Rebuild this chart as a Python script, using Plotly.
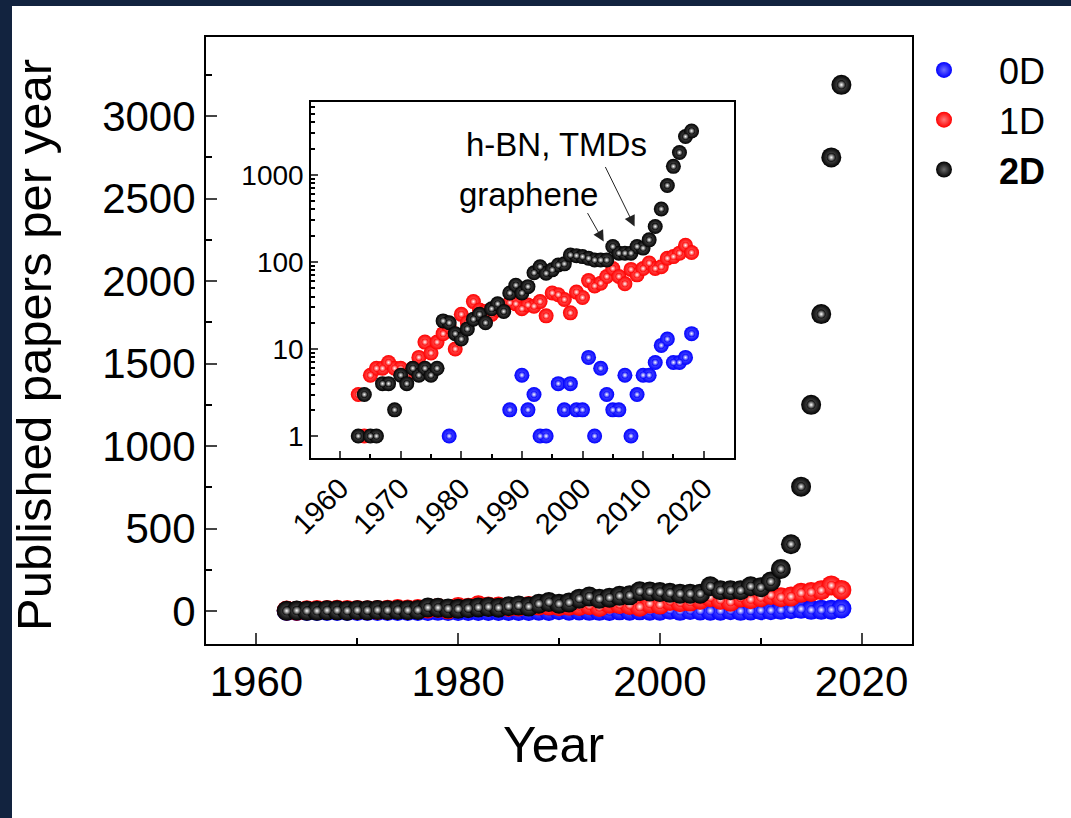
import math
import plotly.graph_objects as go

W, H = 1071, 818
# pixel box of the main plotting area
L, R, T, B = 206, 912, 37, 644

years = list(range(1963, 2019))

papers_0d = [0, 0, 0, 0, 0, 0, 0, 0, 0, 0, 0, 0, 0, 0, 0, 1, 0, 0, 0, 0,
             0, 0, 0, 0, 0, 2, 0, 5, 2, 3, 1, 1, 0, 4, 2, 4, 2, 2, 8, 1,
             6, 3, 2, 2, 5, 1, 3, 5, 5, 7, 11, 13, 7, 7, 8, 15]

papers_1d = [3, 1, 5, 6, 6, 7, 6, 6, 5, 6, 8, 12, 9, 12, 15, 18, 10, 25, 20, 35,
             28, 27, 25, 28, 30, 34, 33, 29, 32, 31, 35, 24, 44, 42, 37, 26, 45, 39, 61, 53,
             57, 68, 84, 68, 56, 82, 71, 84, 97, 84, 88, 110, 115, 126, 155, 128]

papers_2d = [1, 3, 1, 1, 4, 4, 2, 5, 4, 6, 5, 6, 5, 6, 21, 20, 15, 13, 17, 22,
             25, 20, 29, 33, 27, 44, 54, 44, 52, 75, 88, 74, 81, 92, 95, 120, 118, 115, 110, 105,
             105, 105, 150, 126, 126, 126, 150, 144, 179, 255, 405, 754, 1250, 1800, 2750, 3190]

series_names = ["0D", "1D", "<b>2D</b>"]
series_values = [papers_0d, papers_1d, papers_2d]
series_colors = ["#0000ff", "#ff0000", "#000000"]
series_tints = ["#6f6fff", "#ff7a7a", "#6a6a6a"]

main_ticks = [0, 500, 1000, 1500, 2000, 2500, 3000]
inset_ticks = [1, 10, 100, 1000]
inset_minor = [m * 10 ** e for e in range(0, 4) for m in range(2, 10)]

FONT = "Liberation Sans, Arial, sans-serif"
NAVY = "#12233f"


def px_x(px):
    return (px - L) / (R - L)


def px_y(py):
    return (B - py) / (B - T)


fig = go.Figure()

# main panel and inset: a solid sphere body plus a small bright core on top
for axes, size in (("main", 20), ("inset", 15)):
    xa, ya = ("x", "y") if axes == "main" else ("x2", "y2")
    for name, vals, col, tint in zip(series_names, series_values, series_colors, series_tints):
        fig.add_trace(go.Scatter(
            x=years, y=vals, mode="markers", name=name,
            xaxis=xa, yaxis=ya,
            legendgroup=name, showlegend=(axes == "main"),
            marker=dict(size=size, color=col, line=dict(width=0),
                        gradient=dict(type="radial", color=tint)),
            hoverinfo="skip",
        ))
        fig.add_trace(go.Scatter(
            x=years, y=vals, mode="markers", name=name,
            xaxis=xa, yaxis=ya, legendgroup=name, showlegend=False,
            marker=dict(size=size * 0.45, color=col, line=dict(width=0),
                        gradient=dict(type="radial", color="#ffffff")),
            hoverinfo="skip",
        ))

axis_common = dict(showgrid=False, zeroline=False, showline=True, mirror=True,
                   ticks="inside", linecolor="black")

fig.update_layout(
    width=W, height=H,
    margin=dict(l=L, r=W - R, t=T, b=H - B),
    paper_bgcolor="white", plot_bgcolor="white",
    font=dict(family=FONT, color="black"),
    xaxis=dict(**axis_common, range=[1955, 2025], tickmode="linear", tick0=1960, dtick=20,
               ticklen=11, tickwidth=2, linewidth=2,
               minor=dict(tickmode="linear", tick0=1960, dtick=10, ticks="inside",
                          ticklen=6, tickwidth=2, tickcolor="black"),
               tickfont=dict(size=42)),
    yaxis=dict(**axis_common, range=[-200, 3480], tickvals=main_ticks,
               ticklen=11, tickwidth=2, linewidth=2,
               minor=dict(tickmode="linear", tick0=0, dtick=250, ticks="inside",
                          ticklen=6, tickwidth=2, tickcolor="black"),
               tickfont=dict(size=42)),
    xaxis2=dict(**axis_common, domain=[px_x(311), px_x(734)], anchor="y2",
                range=[1955.2, 2025], tickmode="linear", tick0=1960, dtick=10,
                ticklen=7, tickwidth=1.5, linewidth=1.5, tickangle=-45,
                minor=dict(tickmode="linear", tick0=1955, dtick=5, ticks="inside",
                           ticklen=4, tickwidth=1.5, tickcolor="black"),
                tickfont=dict(size=29)),
    yaxis2=dict(**axis_common, domain=[px_y(458), px_y(102)], anchor="x2", type="log",
                range=[math.log10(0.56), 3.836], tickvals=inset_ticks,
                ticktext=[str(v) for v in inset_ticks],
                ticklen=7, tickwidth=1.5, linewidth=1.5,
                minor=dict(tickvals=inset_minor, ticks="inside", ticklen=4,
                           tickwidth=1.5, tickcolor="black"),
                tickfont=dict(size=28)),
    legend=dict(x=px_x(889), y=px_y(40), xanchor="left", yanchor="top",
                bgcolor="rgba(0,0,0,0)", itemwidth=100, tracegroupgap=0,
                font=dict(size=36, family=FONT)),
    showlegend=True,
)

annotations = [
    # axis titles
    dict(text="Year", x=px_x(553), y=px_y(745), xref="paper", yref="paper",
         showarrow=False, font=dict(size=50), xanchor="center", yanchor="middle"),
    dict(text="Published papers per year", x=px_x(34), y=px_y(345), xref="paper", yref="paper",
         showarrow=False, textangle=-90, font=dict(size=49), xanchor="center", yanchor="middle"),
    # inset labels
    dict(text="h-BN, TMDs", x=px_x(556), y=px_y(145), xref="paper", yref="paper",
         showarrow=False, font=dict(size=33), xanchor="center", yanchor="middle"),
    dict(text="graphene", x=px_x(528), y=px_y(194), xref="paper", yref="paper",
         showarrow=False, font=dict(size=33), xanchor="center", yanchor="middle"),
    # arrows pointing to the inset curve
    dict(text="", x=2003.5, y=math.log10(171), xref="x2", yref="y2",
         ax=-17, ay=-30, showarrow=True, arrowhead=2, arrowsize=2.2, arrowwidth=1,
         arrowcolor="#222222"),
    dict(text="", x=2008.6, y=math.log10(255), xref="x2", yref="y2",
         ax=-30, ay=-61, showarrow=True, arrowhead=2, arrowsize=2.2, arrowwidth=1,
         arrowcolor="#222222"),
]
fig.update_layout(annotations=annotations)

# dark page border along the top and left edges
fig.update_layout(shapes=[
    dict(type="rect", xref="paper", yref="paper", x0=px_x(0), x1=px_x(12),
         y0=px_y(H), y1=px_y(0), fillcolor=NAVY, line=dict(width=0), layer="above"),
    dict(type="rect", xref="paper", yref="paper", x0=px_x(0), x1=px_x(W),
         y0=px_y(6), y1=px_y(0), fillcolor=NAVY, line=dict(width=0), layer="above"),
])

fig.write_html("out.html")
